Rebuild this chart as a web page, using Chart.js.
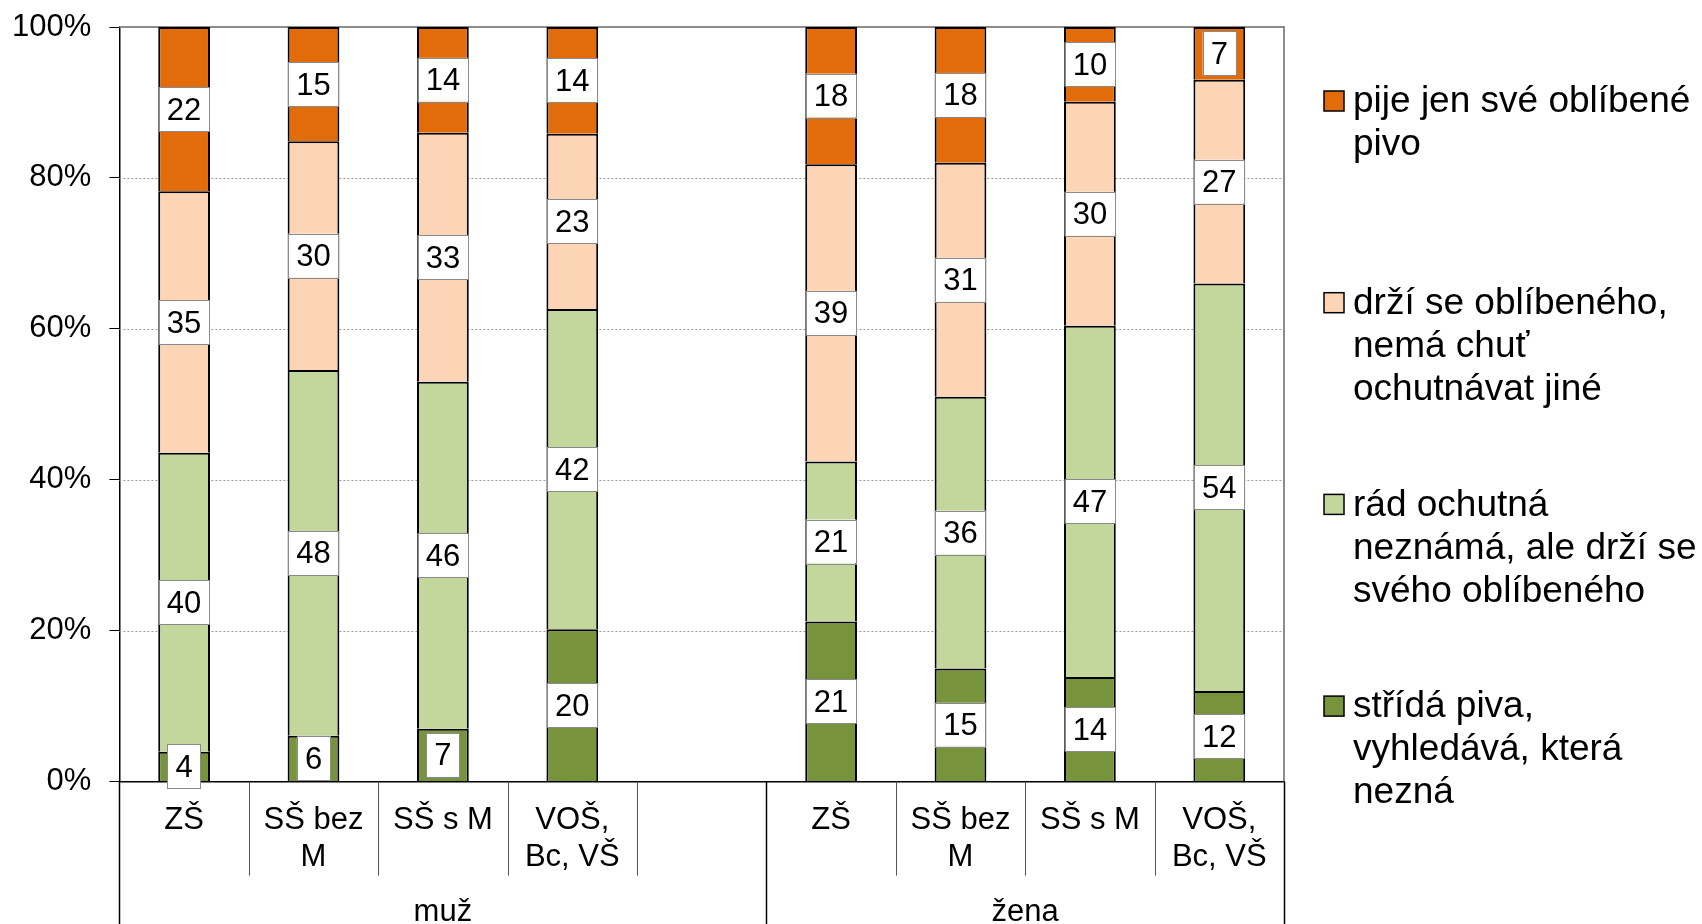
<!DOCTYPE html>
<html>
<head>
<meta charset="utf-8">
<script src="https://cdn.jsdelivr.net/npm/chart.js@4/dist/chart.umd.min.js"></script>
<style>
html,body{margin:0;padding:0;background:#fff;overflow:hidden;}
canvas{display:block;}
</style>
</head>
<body>
<canvas id="c" width="1702" height="924"></canvas>
<script>
// ---- data ----
const categories = ['ZŠ', ['SŠ bez', 'M'], 'SŠ s M', ['VOŠ,', 'Bc, VŠ'], '', 'ZŠ', ['SŠ bez', 'M'], 'SŠ s M', ['VOŠ,', 'Bc, VŠ']];
const groupLabels = ['muž', 'žena'];
const groupSizes = [5, 4];
const yTicks = [0, 20, 40, 60, 80, 100];

const seriesPije   = [22, 15, 14, 14, null, 18, 18, 10, 7];
const seriesDrzi   = [35, 30, 33, 23, null, 39, 31, 30, 27];
const seriesRad    = [40, 48, 46, 42, null, 21, 36, 47, 54];
const seriesStrida = [4, 6, 7, 20, null, 21, 15, 14, 12];

const nameStrida = ['střídá piva,', 'vyhledává, která', 'nezná'];
const nameRad    = ['rád ochutná', 'neznámá, ale drží se', 'svého oblíbeného'];
const nameDrzi   = ['drží se oblíbeného,', 'nemá chuť', 'ochutnávat jiné'];
const namePije   = ['pije jen své oblíbené', 'pivo'];

// ---- styles ----
const FONT = "'Liberation Sans', Arial, sans-serif";
const colStrida = '#77933C';
const colRad = '#C3D69B';
const colDrzi = '#FBD5B5';
const colPije = '#E36C0A';

// totals per category (for 100 % stacking)
const allSeries = [seriesStrida, seriesRad, seriesDrzi, seriesPije];
const totals = categories.map((_, i) => allSeries.reduce((s, arr) => s + (arr[i] == null ? 0 : arr[i]), 0));
const pct = arr => arr.map((v, i) => v == null ? null : v / totals[i] * 100);

function mkDs(label, raw, color) {
  return {
    label: label,
    rawValues: raw,
    data: pct(raw),
    backgroundColor: color,
    borderColor: '#000',
    borderWidth: 2,
    borderSkipped: 'start',
    barPercentage: 0.40,
    categoryPercentage: 1.0
  };
}

const datasets = [
  mkDs(nameStrida, seriesStrida, colStrida),
  mkDs(nameRad, seriesRad, colRad),
  mkDs(nameDrzi, seriesDrzi, colDrzi),
  mkDs(namePije, seriesPije, colPije)
];

// ---- plugins ----
const gridPlugin = {
  id: 'gridPlugin',
  beforeDatasetsDraw(chart) {
    const {ctx, chartArea: a, scales: {y}} = chart;
    ctx.save();
    ctx.strokeStyle = '#9a9a9a';
    ctx.lineWidth = 1;
    ctx.setLineDash([2, 2]);
    yTicks.forEach(t => {
      if (t === 0 || t === 100) return;
      const py = Math.round(y.getPixelForValue(t)) + 0.5;
      ctx.beginPath(); ctx.moveTo(a.left, py); ctx.lineTo(a.right, py); ctx.stroke();
    });
    ctx.setLineDash([]);
    // frame top & right
    ctx.strokeStyle = '#8c8c8c';
    ctx.lineWidth = 2;
    ctx.beginPath();
    ctx.moveTo(a.left, a.top); ctx.lineTo(a.right, a.top); ctx.lineTo(a.right, a.bottom);
    ctx.stroke();
    ctx.restore();
  }
};

const labelPlugin = {
  id: 'labelPlugin',
  afterDatasetsDraw(chart) {
    const {ctx} = chart;
    ctx.save();
    ctx.font = '31px ' + FONT;
    ctx.textAlign = 'center';
    ctx.textBaseline = 'middle';
    chart.data.datasets.forEach((ds, di) => {
      const meta = chart.getDatasetMeta(di);
      meta.data.forEach((bar, i) => {
        const v = ds.rawValues[i];
        if (v == null) return;
        const cx = bar.x;
        const cy = (bar.y + bar.base) / 2;
        const txt = String(v);
        const tw = ctx.measureText(txt).width;
        const w = tw + 16, h = 44;
        ctx.fillStyle = '#fff';
        ctx.fillRect(cx - w / 2, cy - h / 2, w, h);
        ctx.strokeStyle = '#8a8a8a';
        ctx.lineWidth = 1;
        ctx.strokeRect(Math.round(cx - w / 2) + 0.5, Math.round(cy - h / 2) + 0.5, Math.round(w), Math.round(h));
        ctx.fillStyle = '#000';
        ctx.fillText(txt, cx, cy + 2);
      });
    });
    ctx.restore();
  }
};

const axisPlugin = {
  id: 'axisPlugin',
  afterDraw(chart) {
    const {ctx, chartArea: a, scales: {x}} = chart;
    const n = categories.length;
    const slot = (x.right - x.left) / n;
    const edges = [0];
    groupSizes.forEach(s => edges.push(edges[edges.length - 1] + s));
    ctx.save();
    for (let i = 0; i <= n; i++) {
      const bx = Math.round(x.left + i * slot) + 0.5;
      const isEdge = edges.includes(i);
      ctx.strokeStyle = isEdge ? '#000' : '#555';
      ctx.lineWidth = isEdge ? 1.5 : 1;
      ctx.beginPath();
      ctx.moveTo(bx, a.bottom);
      ctx.lineTo(bx, isEdge ? chart.height : a.bottom + 94);
      ctx.stroke();
    }
    ctx.font = '31px ' + FONT;
    ctx.fillStyle = '#000';
    ctx.textAlign = 'center';
    ctx.textBaseline = 'alphabetic';
    groupLabels.forEach((g, gi) => {
      const cx = x.left + (edges[gi] + groupSizes[gi] / 2) * slot;
      ctx.fillText(g, cx, a.bottom + 139);
    });
    ctx.restore();
  }
};

const legendPlugin = {
  id: 'legendPlugin',
  afterDraw(chart) {
    const {ctx, chartArea: a} = chart;
    const sx = a.right + 40;
    const tx = a.right + 69;
    const firstY = a.top + 74;
    const step = 201.7;
    const lineH = 43;
    ctx.save();
    ctx.font = '37px ' + FONT;
    ctx.textAlign = 'left';
    ctx.textBaseline = 'middle';
    const items = chart.data.datasets.slice().reverse();
    items.forEach((ds, k) => {
      const y0 = firstY + k * step;
      ctx.fillStyle = ds.backgroundColor;
      ctx.fillRect(sx, y0 - 10, 20, 20);
      ctx.strokeStyle = '#000';
      ctx.lineWidth = 1.5;
      ctx.strokeRect(sx, y0 - 10, 20, 20);
      ctx.fillStyle = '#000';
      ds.label.forEach((line, li) => {
        ctx.fillText(line, tx, y0 + li * lineH + 1);
      });
    });
    ctx.restore();
  }
};

new Chart(document.getElementById('c'), {
  type: 'bar',
  data: { labels: categories, datasets: datasets },
  options: {
    responsive: false,
    animation: false,
    devicePixelRatio: 1,
    layout: { padding: { top: 27, right: 418, bottom: 0, left: 0 } },
    plugins: {
      legend: { display: false },
      tooltip: { enabled: false },
      title: { display: false }
    },
    scales: {
      x: {
        stacked: true,
        grid: { display: false, drawTicks: false },
        border: { display: true, color: '#000', width: 1.5 },
        ticks: {
          color: '#000',
          font: { family: FONT, size: 31, lineHeight: 1.2 },
          padding: 20,
          autoSkip: false,
          maxRotation: 0,
          minRotation: 0
        },
        afterFit(s) { s.height = 142.4; s.paddingLeft = 0; s.paddingRight = 0; }
      },
      y: {
        stacked: true,
        min: 0,
        max: 100,
        afterBuildTicks(s) { s.ticks = yTicks.map(v => ({ value: v })); },
        grid: { drawOnChartArea: false, drawTicks: true, tickLength: 10, color: '#000', tickColor: '#000', lineWidth: 1 },
        border: { display: true, color: '#000', width: 1.5 },
        ticks: {
          color: '#000',
          font: { family: FONT, size: 31 },
          padding: 18,
          callback: v => v + '%'
        },
        afterFit(s) { s.width = 119.4; s.paddingTop = 0; s.paddingBottom = 0; }
      }
    }
  },
  plugins: [gridPlugin, labelPlugin, axisPlugin, legendPlugin]
});
</script>
</body>
</html>
